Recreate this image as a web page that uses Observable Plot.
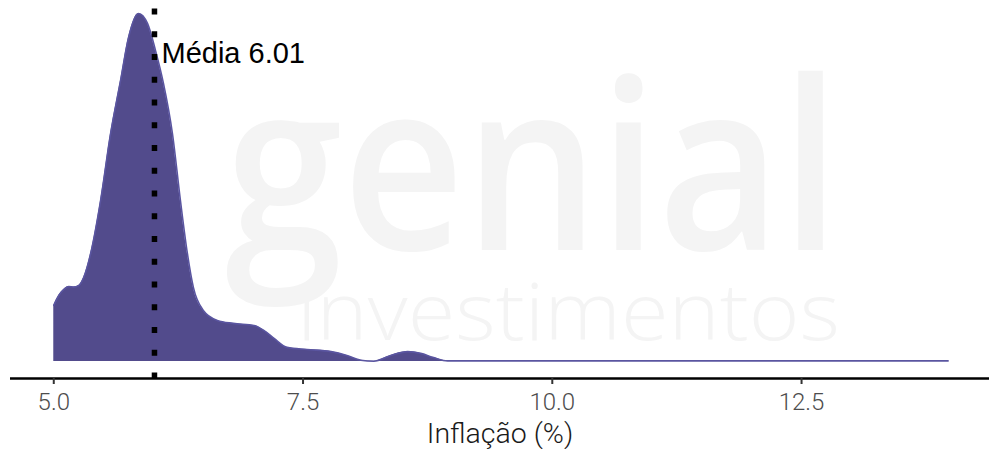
<!DOCTYPE html>
<html>
<head>
<meta charset="utf-8">
<script src="https://cdn.jsdelivr.net/npm/d3@7"></script>
<script src="https://cdn.jsdelivr.net/npm/@observablehq/plot@0.6"></script>
<style>
  html, body { margin: 0; padding: 0; background: #ffffff; }
  #chart svg { display: block; }
</style>
</head>
<body>
<div id="chart"></div>
<script>
// Inflation expectations (%) and estimated density
const inflacao = [5.00, 5.05, 5.10, 5.15, 5.20, 5.25, 5.30, 5.37, 5.47, 5.57, 5.67, 5.75, 5.85, 5.94,
  6.02, 6.10, 6.19, 6.27, 6.34, 6.40, 6.50, 6.64, 6.80, 7.01, 7.11, 7.21, 7.34, 7.54, 7.78, 7.94,
  8.08, 8.21, 8.38, 8.55, 8.68, 8.81, 8.95, 9.50, 10.5, 11.5, 12.5, 13.5, 13.97];
const densidade = [0.187, 0.220, 0.240, 0.250, 0.248, 0.253, 0.280, 0.360, 0.537, 0.760, 0.937, 1.080, 1.160, 1.127,
  1.037, 0.927, 0.760, 0.537, 0.360, 0.247, 0.170, 0.137, 0.127, 0.120, 0.103, 0.077, 0.047, 0.040, 0.033, 0.020,
  0.004, 0.001, 0.020, 0.033, 0.027, 0.013, 0.002, 0.002, 0.002, 0.002, 0.002, 0.002, 0.002];
const media = 6.01;
const ticksX = [5, 7.5, 10, 12.5];
const xLabel = "Inflação (%)";
const mediaLabel = "Média";
const watermark = ["genial", "investimentos"];

const xDomain = [4.566, 14.385];
const yDomain = [-0.0567, 1.2033];

const data = inflacao.map((x, i) => ({x, y: densidade[i]}));

const chart = Plot.plot({
  width: 989,
  height: 449,
  marginLeft: 10,
  marginRight: 0,
  marginTop: 0,
  marginBottom: 71,
  style: {fontFamily: "Roboto", background: "white", overflow: "visible"},
  x: {domain: xDomain},
  y: {domain: yDomain, axis: null},
  marks: [
    Plot.areaY(data, {x: "x", y: "y", fill: "#524b8c", curve: "monotone-x"}),
    Plot.lineY(data, {x: "x", y: "y", stroke: "#5a55a0", strokeWidth: 1.6, curve: "monotone-x"}),
    Plot.ruleY([yDomain[0]], {stroke: "#000", strokeWidth: 2.5}),
    Plot.ruleX([media], {stroke: "#000", strokeWidth: 5.5, strokeDasharray: "6,16.75", strokeDashoffset: 14.25}),
    Plot.text([media], {
      x: d => d, text: d => `${mediaLabel} ${d.toFixed(2)}`,
      frameAnchor: "top", textAnchor: "start", lineAnchor: "top",
      dx: 7, dy: 41.7, fontSize: 29, fontFamily: "Liberation Sans", fill: "#000"
    }),
    Plot.axisX({
      ticks: ticksX, tickFormat: d => d.toFixed(1), tickSize: 6, tickPadding: 8,
      fontSize: 24, fontWeight: 300, fill: "#4d4d4d", stroke: "#333", strokeWidth: 2, label: null
    }),
    Plot.text([xLabel], {
      text: d => d, frameAnchor: "bottom", lineAnchor: "top", dy: 44.5,
      fontSize: 28.5, fontWeight: 300, fill: "#1a1a1a"
    })
  ]
});

// faint logo watermark behind the marks
const svg = d3.select(chart);
const wm = svg.insert("g", ":first-child").attr("fill", "#f4f4f4")
  .attr("font-family", "Open Sans").attr("text-anchor", "start");
wm.append("text").attr("x", 225).attr("y", 250).attr("font-size", 236).attr("font-weight", 600)
  .attr("textLength", 615).attr("lengthAdjust", "spacingAndGlyphs").text(watermark[0]);
wm.append("text").attr("x", 297).attr("y", 340).attr("font-size", 80).attr("font-weight", 300)
  .attr("textLength", 543).attr("lengthAdjust", "spacingAndGlyphs").text(watermark[1]);

document.getElementById("chart").appendChild(chart);
</script>
</body>
</html>
